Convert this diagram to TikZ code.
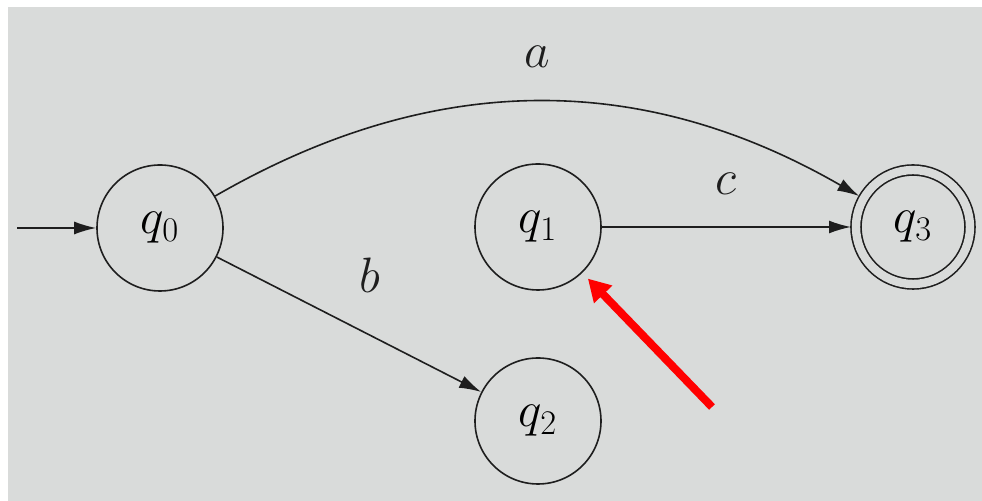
\documentclass[tikz,border=0pt]{standalone}
\usepackage{tikz}
\usetikzlibrary{arrows.meta,positioning}
\definecolor{paper}{HTML}{D9DBDA}
\definecolor{ink}{HTML}{1E1E1E}
\definecolor{markred}{HTML}{FF0000}

\begin{document}
\begin{tikzpicture}[
    x=0.5pt, y=-0.5pt,
    state/.style={
      circle,
      draw=ink,
      line width=0.8pt,
      minimum size=63pt,
      inner sep=0pt,
      font=\fontsize{26}{31}\selectfont
    },
    accept/.style={
      state,
      minimum size=57pt,
      double=paper,
      double distance=4.2pt,
      outer sep=2.5pt
    },
    trans/.style={
      -{Latex[length=11pt,width=6.5pt]},
      line width=0.8pt,
      color=ink
    },
    sym/.style={
      inner sep=0pt,
      text=ink,
      font=\fontsize{26}{31}\selectfont
    },
    pointer/.style={
      -{Triangle[length=11pt,width=12pt]},
      line width=4pt,
      color=markred,
      shorten >=4pt
    }
  ]

  % Photo background
  \fill[white] (0,0) rectangle (982,501);
  \useasboundingbox (0,0) rectangle (982,501);
  \fill[paper] (8,7) rectangle (982,501);

  % States
  \node[state]  (q0) at (160,228) {$q_0$};
  \node[state]  (q1) at (538,227) {$q_1$};
  \node[state]  (q2) at (538,421) {$q_2$};
  \node[accept] (q3) at (913,227) {$q_3$};

  % Start arrow
  \coordinate (start) at (17,228);
  \draw[trans] (start) -- (q0);

  % Transitions
  \draw[trans] (q0) to[bend left=30] node[midway,sym,above=17pt] {$a$} (q3);
  \draw[trans] (q0) -- (q2) node[pos=0.58,sym,above=21pt] {$b$};
  \draw[trans] (q1) -- (q3) node[midway,sym,above=16pt] {$c$};

  % Red marker
  \coordinate (marktail) at (712,407);
  \draw[pointer] (marktail) -- (q1);

\end{tikzpicture}
\end{document}
